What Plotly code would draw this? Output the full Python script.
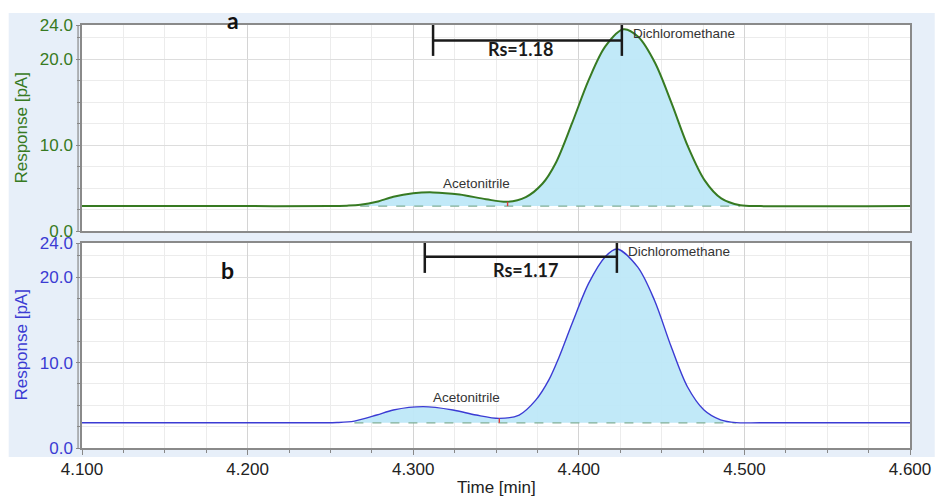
import plotly.graph_objects as go

# ---------------- data ----------------
time_a = [4.100, 4.200, 4.250, 4.260, 4.268, 4.278, 4.288, 4.300, 4.312, 4.328, 4.344, 4.357,
          4.368, 4.378, 4.386, 4.396, 4.406, 4.416, 4.427, 4.436, 4.446, 4.456, 4.466, 4.476,
          4.486, 4.4975, 4.510, 4.600]
resp_a = [2.9, 2.9, 2.9, 2.95, 3.05, 3.4, 4.0, 4.4, 4.5, 4.25, 3.7, 3.4,
          3.95, 5.5, 7.9, 12.6, 17.6, 21.5, 23.5, 22.6, 19.6, 14.9, 9.8, 5.9,
          3.8, 3.0, 2.9, 2.9]

time_b = [4.100, 4.200, 4.245, 4.254, 4.2645, 4.278, 4.288, 4.306, 4.324, 4.338, 4.352, 4.364,
          4.374, 4.382, 4.388, 4.396, 4.406, 4.416, 4.423, 4.4355, 4.4457, 4.4557, 4.4655, 4.4756,
          4.4856, 4.495, 4.510, 4.600]
resp_b = [2.95, 2.95, 2.95, 2.98, 3.15, 3.86, 4.45, 4.84, 4.45, 3.86, 3.47, 3.86,
          5.6, 8.0, 10.6, 14.6, 19.3, 22.4, 23.3, 21.2, 17.3, 11.9, 7.2, 4.45,
          3.3, 2.97, 2.95, 2.95]

baseline_a = 2.9
baseline_b = 2.95
integ_a = [4.268, 4.4975]
integ_b = [4.2645, 4.495]
apex_a = [4.312, 4.426]          # acetonitrile, dichloromethane apex times
apex_b = [4.307, 4.423]
valley_a = [4.357, 3.4]
valley_b = [4.352, 3.47]
rs_text = ["Rs=1.18", "Rs=1.17"]
panel_labels = ["a", "b"]
peak_names = ["Acetonitrile", "Dichloromethane"]
x_ticks = [4.1, 4.2, 4.3, 4.4, 4.5, 4.6]
y_ticks = [0, 10, 20, 24]
y_minor = [2.5, 5, 7.5, 12.5, 15, 17.5, 22.5]

# ---------------- geometry helpers ----------------
W, H = 943, 497
L, R, T, B = 82, 25, 25, 49


def px(x):
    return (x - L) / (W - L - R)


def py(y):
    return (H - B - y) / (H - T - B)


GREEN = "#377a22"
BLUE = "#3b3bd3"
FILL = "rgba(190,232,248,0.95)"
FONT = "Liberation Sans, Arial, sans-serif"
BOLD = "Lato, Liberation Sans, sans-serif"

fig = go.Figure()


def add_panel(t, r, base, integ, color, width, xa, ya):
    sel_t = [ti for ti in t if integ[0] <= ti <= integ[1]]
    sel_r = [ri for ti, ri in zip(t, r) if integ[0] <= ti <= integ[1]]
    fig.add_trace(go.Scatter(x=integ, y=[base, base], mode="lines",
                             line=dict(color="#7fae96", width=1.3, dash="dash"),
                             xaxis=xa, yaxis=ya, showlegend=False, hoverinfo="skip"))
    fig.add_trace(go.Scatter(x=sel_t, y=sel_r, mode="lines", fill="tonexty",
                             fillcolor=FILL, line=dict(width=0, shape="spline", smoothing=0.9),
                             xaxis=xa, yaxis=ya, showlegend=False, hoverinfo="skip"))
    fig.add_trace(go.Scatter(x=t, y=r, mode="lines",
                             line=dict(color=color, width=width, shape="spline", smoothing=0.9),
                             xaxis=xa, yaxis=ya, showlegend=False))


add_panel(time_a, resp_a, baseline_a, integ_a, GREEN, 2.0, "x", "y")
add_panel(time_b, resp_b, baseline_b, integ_b, BLUE, 1.4, "x2", "y2")

shapes = []
# light-blue panel background
shapes.append(dict(type="rect", xref="paper", yref="paper", x0=px(8), x1=px(943),
                   y0=py(457), y1=py(13), fillcolor="#e7eff9", line=dict(width=0), layer="below"))
for xr, yr in (("x domain", "y domain"), ("x2 domain", "y2 domain")):
    shapes.append(dict(type="rect", xref=xr, yref=yr, x0=0, x1=1, y0=0, y1=1,
                       fillcolor="white", line=dict(width=0), layer="below"))
# double line at left edges
for y0, y1 in ((231, 25), (448, 243)):
    shapes.append(dict(type="line", xref="paper", yref="paper", x0=px(78), x1=px(78),
                       y0=py(y0), y1=py(y1), line=dict(color="#8a8a8a", width=1.2)))

# Rs bars and valley markers
for apex, xr, yr, hy, v0, v1, valley, base in (
        (apex_a, "x", "y", 22.2, 20.4, 24.2, valley_a, baseline_a),
        (apex_b, "x2", "y2", 22.4, 20.5, 24.2, valley_b, baseline_b)):
    shapes.append(dict(type="line", xref=xr, yref=yr, x0=apex[0], x1=apex[1], y0=hy, y1=hy,
                       line=dict(color="#1a1a1a", width=2.5)))
    for a in apex:
        shapes.append(dict(type="line", xref=xr, yref=yr, x0=a, x1=a, y0=v0, y1=v1,
                           line=dict(color="#1a1a1a", width=2.5)))
    shapes.append(dict(type="line", xref=xr, yref=yr, x0=valley[0], x1=valley[0],
                       y0=base, y1=valley[1], line=dict(color="#e03a3a", width=1.4)))

annotations = []
# y titles
for yc, col in ((128, GREEN), (345, BLUE)):
    annotations.append(dict(text="Response [pA]", xref="paper", yref="paper", x=px(20), y=py(yc),
                            textangle=-90, showarrow=False, font=dict(family=FONT, size=17, color=col),
                            xanchor="center", yanchor="middle"))
annotations.append(dict(text="Time [min]", xref="paper", yref="paper", x=px(500), y=py(487),
                        showarrow=False, font=dict(family=FONT, size=17, color="#222"),
                        xanchor="center", yanchor="middle"))
# panel letters
for lab, (xc, yc) in zip(panel_labels, ((234, 20), (229, 270))):
    annotations.append(dict(text="<b>%s</b>" % lab, xref="paper", yref="paper", x=px(xc), y=py(yc),
                            showarrow=False, font=dict(family=BOLD, size=23, color="#111"),
                            xanchor="center", yanchor="middle"))
# Rs labels
for txt, (xc, yc) in zip(rs_text, ((525, 49), (530, 270))):
    annotations.append(dict(text="<b>%s</b>" % txt, xref="paper", yref="paper", x=px(xc), y=py(yc),
                            showarrow=False, font=dict(family=BOLD, size=18, color="#1a1a1a"),
                            xanchor="center", yanchor="middle"))
# peak names
for (xc, yc), name, anc in (((480, 183), peak_names[0], "center"), ((636, 33), peak_names[1], "left"),
                            ((470, 397), peak_names[0], "center"), ((631, 251), peak_names[1], "left")):
    annotations.append(dict(text=name, xref="paper", yref="paper", x=px(xc), y=py(yc),
                            showarrow=False, font=dict(family=FONT, size=13.5, color="#333"),
                            xanchor=anc, yanchor="middle"))

axis_line = dict(showline=True, mirror=True, linecolor="#8a8a8a", linewidth=1.5, zeroline=False)
xcommon = dict(range=[4.1, 4.6], tickvals=x_ticks, gridcolor="#d4d4d4", gridwidth=1,
               minor=dict(dtick=0.025, showgrid=True, gridcolor="#ececec", gridwidth=1,
                          ticks="outside", ticklen=3, tickcolor="#888"),
               **axis_line)
ycommon = dict(range=[0, 24], tickvals=y_ticks, ticktext=["%.1f" % v for v in y_ticks],
               gridcolor="#dddddd", ticks="outside", ticklen=4, tickcolor="#888",
               minor=dict(tickmode="array", tickvals=y_minor, showgrid=True, gridcolor="#ececec",
                          ticks="outside", ticklen=3, tickcolor="#888"),
               **axis_line)

fig.update_layout(
    width=W, height=H,
    margin=dict(l=L, r=R, t=T, b=B),
    paper_bgcolor="white", plot_bgcolor="white",
    showlegend=False,
    xaxis=dict(domain=[0, 1], anchor="y", showticklabels=False, ticks="",
               **{k: v for k, v in xcommon.items() if k != "minor"}),
    xaxis2=dict(domain=[0, 1], anchor="y2", matches="x", tickformat=".3f", ticks="outside", ticklen=5,
                tickcolor="#888", tickfont=dict(family=FONT, size=17, color="#222"), **xcommon),
    yaxis=dict(domain=[py(231), 1], anchor="x", tickfont=dict(family=FONT, size=17, color=GREEN), **ycommon),
    yaxis2=dict(domain=[0, py(243)], anchor="x2", tickfont=dict(family=FONT, size=17, color=BLUE), **ycommon),
    shapes=shapes,
    annotations=annotations,
)
fig.update_xaxes(selector=dict(anchor="y"),
                 minor=dict(dtick=0.025, showgrid=True, gridcolor="#ececec", ticks=""))

fig.write_html("out.html", config={"displayModeBar": False},
               post_script="document.body.style.margin='0';document.body.style.overflow='hidden';")
